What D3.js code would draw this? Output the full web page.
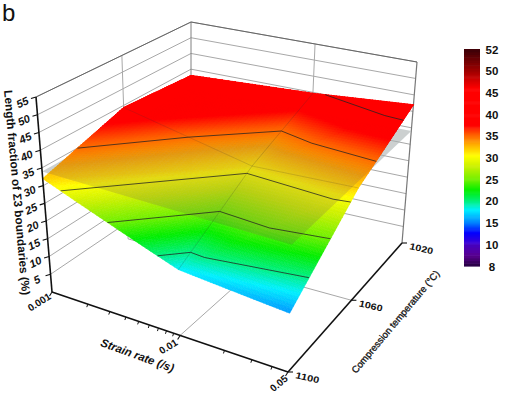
<!DOCTYPE html>
<html><head><meta charset="utf-8">
<script src="https://cdn.jsdelivr.net/npm/d3@7"></script>
<style>html,body{margin:0;padding:0;background:#fff}svg{display:block}text{font-family:"Liberation Sans",Arial,sans-serif;fill:#111}</style>
</head><body><svg id="c" width="508" height="403"></svg>
<script>
const strainNodes=[0.001,0.01,0.05];
const tempNodes=[1100,1060,1020];
const z1100=[32,18,15.7];
const z1060=[39.4,31,32];
const z1020=[38,39.7,42];
const strainMinor=[0.002,0.003,0.004,0.005,0.006,0.007,0.008,0.009,0.02,0.03,0.04];
const zTicks=[5,10,15,20,25,30,35,40,45,50,55];
const contourLevels=[20,25,30,35,40];
const planeLevel=34;
const legendTicks=[52,50,45,40,35,30,25,20,15,10,8];
const colorZ=[8,9,10.5,12.8,15,18,20,22.5,25,28,30.5,33,35.5,37.5,46,50,52];
const colorC=["#25003f","#5a0090","#3a00d8","#0000ff","#0080ff","#00f0ff","#00f080","#00ee00","#70f000","#c8f000","#ffff00","#ffb000","#ff5a00","#ff0000","#ff0000","#a00000","#3a0008"];

const svg=d3.select("#c");
const color=d3.scaleLinear().domain(colorZ).range(colorC).clamp(true);
const U=d3.scaleLog().domain([0.001,0.05]).range([0,1]);
const V=d3.scaleLinear().domain([1100,1020]).range([0,1]);
const Z=d3.scaleLinear().domain([0,55]).range([0,1]);

function homography(q){
  const [[x0,y0],[x1,y1],[x2,y2],[x3,y3]]=q;
  const dx1=x1-x2,dx2=x3-x2,sx=x0-x1+x2-x3,dy1=y1-y2,dy2=y3-y2,sy=y0-y1+y2-y3;
  const det=dx1*dy2-dx2*dy1,g=(sx*dy2-dx2*sy)/det,h=(dx1*sy-sx*dy1)/det;
  const a=x1-x0+g*x1,b=x3-x0+h*x3,d=y1-y0+g*y1,e=y3-y0+h*y3;
  return (u,v)=>{const w=g*u+h*v+1;return [(a*u+b*v+x0)/w,(d*u+e*v+y0)/w];};
}
const floorH=homography([[52,292],[288,372],[402,243],[191,195]]);
const topH=homography([[36,97],[294,166],[417,62],[191,22]]);
function P(s,t,z){
  const u=U(s),v=V(t),f=floorH(u,v),c=topH(u,v),k=Z(z);
  return [f[0]+(c[0]-f[0])*k,f[1]+(c[1]-f[1])*k];
}
const line=d3.line();
const S0=strainNodes[0],S1=strainNodes[2],T0=tempNodes[0],T1=tempNodes[2];
function seg(g,a,b,col,w,op){g.append("path").attr("d",line([a,b])).attr("stroke",col).attr("stroke-width",w).attr("fill","none").attr("opacity",op==null?1:op);}

// walls and floor
const walls=svg.append("g");
const gridCol="#a8a8a8";
function drawGrid(g,col,w,op){
  zTicks.forEach(z=>{
    seg(g,P(S0,T0,z),P(S0,T1,z),col,w,op);
    seg(g,P(S0,T1,z),P(S1,T1,z),col,w,op);
  });
  seg(g,P(strainNodes[1],T0,0),P(strainNodes[1],T1,0),col,w,op);
  seg(g,P(S0,tempNodes[1],0),P(S1,tempNodes[1],0),col,w,op);
  seg(g,P(S0,tempNodes[1],0),P(S0,tempNodes[1],55),col,w,op);
  seg(g,P(strainNodes[1],T1,0),P(strainNodes[1],T1,55),col,w,op);
}
drawGrid(walls,gridCol,1);
seg(walls,P(S0,T1,0),P(S0,T1,55),"#808080",1);
seg(walls,P(S1,T1,0),P(S1,T1,55),"#777",1.2);
seg(walls,P(S0,T0,55),P(S0,T1,55),"#666",1);
seg(walls,P(S0,T1,55),P(S1,T1,55),"#666",1);

const planePath=line([[S0,T0],[S1,T0],[S1,T1],[S0,T1]].map(d=>P(d[0],d[1],planeLevel)))+"Z";
svg.append("path").attr("d",planePath).attr("fill","#c4e4e4").attr("fill-opacity",0.5);

// surface
const rows=[z1100,z1060,z1020];
const tris=[];
for(let j=0;j<2;j++)for(let i=0;i<2;i++){
  const n=(ii,jj)=>({s:strainNodes[ii],t:tempNodes[jj],z:rows[jj][ii],u:U(strainNodes[ii]),v:V(tempNodes[jj])});
  tris.push([n(i,j),n(i+1,j),n(i+1,j+1)]);
  tris.push([n(i,j),n(i+1,j+1),n(i,j+1)]);
}
function projUV(u,v,z){const f=floorH(u,v),c=topH(u,v),k=Z(z);return [f[0]+(c[0]-f[0])*k,f[1]+(c[1]-f[1])*k];}
const cells=[];
const N=36;
tris.forEach(([A,B,C])=>{
  const bary=(a,b)=>{const c=1-a-b;return {u:A.u*a+B.u*b+C.u*c,v:A.v*a+B.v*b+C.v*c,z:A.z*a+B.z*b+C.z*c};};
  for(let p=0;p<N;p++)for(let q=0;q<N-p;q++){
    const a=p/N,b=q/N,d=1/N;
    const sets=[[[a,b],[a+d,b],[a,b+d]]];
    if(p+q<N-1)sets.push([[a+d,b],[a+d,b+d],[a,b+d]]);
    sets.forEach(st=>{
      const pts=st.map(x=>bary(x[0],x[1]));
      cells.push({z:d3.mean(pts,x=>x.z),pts:pts.map(x=>projUV(x.u,x.v,x.z))});
    });
  }
});
const fade=d3.scaleLinear().domain([planeLevel-0.8,planeLevel+0.8]).range([0,1]).clamp(true);
function drawCells(g,list,soft){
  g.selectAll("path").data(list).join("path")
    .attr("d",c=>line(c.pts)+"Z").attr("fill",c=>color(c.z)).attr("stroke",c=>color(c.z)).attr("stroke-width",0.6)
    .attr("opacity",c=>soft?fade(c.z):1);
}
drawCells(svg.append("g"),cells,false);
// reference plane over the part of the surface below it
svg.append("path").attr("d",planePath).attr("fill","#7a5050").attr("fill-opacity",0.2).attr("stroke","none");
drawCells(svg.append("g"),cells.filter(c=>c.z>planeLevel-0.8),true);

// mesh faint lines
const mesh=svg.append("g");
rows.forEach((r,j)=>r.forEach((z,i)=>{
  if(i<2) seg(mesh,P(strainNodes[i],tempNodes[j],z),P(strainNodes[i+1],tempNodes[j],r[i+1]),"#333",0.8,(j==1)?0.22:0);
  if(j<2) seg(mesh,P(strainNodes[i],tempNodes[j],z),P(strainNodes[i],tempNodes[j+1],rows[j+1][i]),"#333",0.8,(i==1)?0.25:0);
}));
// contours
const cg=svg.append("g");
contourLevels.forEach(L=>{
  tris.forEach(tr=>{
    const hit=[];
    for(let k=0;k<3;k++){
      const a=tr[k],b=tr[(k+1)%3];
      if((a.z<L)!==(b.z<L)){
        const f=(L-a.z)/(b.z-a.z);
        hit.push(projUV(a.u+(b.u-a.u)*f,a.v+(b.v-a.v)*f,L));
      }
    }
    if(hit.length==2) seg(cg,hit[0],hit[1],"#222",0.9,0.85);
  });
});

// axes
const ax=svg.append("g");
seg(ax,P(S0,T0,0),P(S0,T0,55),"#111",1.6);
seg(ax,P(S0,T0,0),P(S1,T0,0),"#111",1.6);
seg(ax,P(S1,T0,0),P(S1,T1,0),"#111",1.6);
function label(x,y,rot,txt,size,opts={}){
  ax.append("text").attr("transform",`translate(${x},${y}) rotate(${rot})`).attr("text-anchor",opts.anchor||"middle")
    .attr("font-size",size).attr("font-weight",opts.weight||"bold").attr("font-style",opts.style||"normal")
    .attr("stroke",opts.stroke?"#111":"none").attr("stroke-width",opts.stroke||0).text(txt);
}
zTicks.forEach(z=>{
  const p=P(S0,T0,z);
  seg(ax,p,[p[0]-5,p[1]+1.5],"#111",1.1);
  label(p[0]-12,p[1]+9,-25,String(z),11,{style:"italic"});
});
strainMinor.forEach(s=>{const p=P(s,T0,0);seg(ax,p,[p[0]-1,p[1]+3],"#111",1);});
const strainOff=[[-11,13,-32],[-10,14,-32],[-7,14,-40]];
strainNodes.forEach((s,i)=>{
  const p=P(s,T0,0);
  seg(ax,p,[p[0]-2.5,p[1]+4],"#111",1.1);
  label(p[0]+strainOff[i][0],p[1]+strainOff[i][1],strainOff[i][2],["0.001","0.01","0.05"][i],10);
});
tempNodes.forEach(t=>{
  const p=P(S1,t,0);
  seg(ax,p,[p[0]+5,p[1]],"#111",1.1);
  ax.append("text").attr("transform",`translate(${p[0]+7},${p[1]+6}) rotate(13)`).attr("font-size",9).attr("font-weight","bold").attr("textLength",24).attr("lengthAdjust","spacingAndGlyphs").text(String(t));
});
label(136,359,20,"Strain rate (/s)",11.5,{style:"italic"});
label(398,324,-50,"Compression temperature (°C)",9.6,{weight:"normal",stroke:0.3});
label(13,193,85,"Length fraction of Σ3 boundaries (%)",11.8);
ax.append("text").attr("x",2).attr("y",21).attr("font-size",24).text("b");

// colour bar
const legY=d3.scaleLinear().domain(legendTicks).range(legendTicks.map((d,i)=>49+i*21.7));
const lg=svg.append("g");
d3.range(8,52,0.25).forEach(v=>{
  lg.append("rect").attr("x",464).attr("width",16).attr("y",legY(v+0.25)).attr("height",Math.abs(legY(v)-legY(v+0.25))+0.6).attr("fill",color(v+0.12));
});
legendTicks.forEach(v=>{
  lg.append("text").attr("x",492).attr("y",legY(v)+4.5).attr("text-anchor","middle").attr("font-size",11.5).attr("font-weight","bold").attr("fill","#222").text(v);
});
</script></body></html>
